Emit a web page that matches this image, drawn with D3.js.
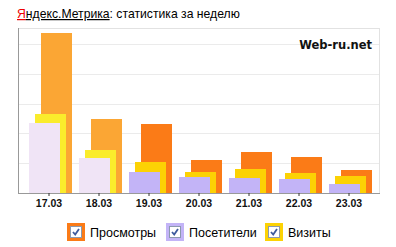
<!DOCTYPE html>
<html lang="ru">
<head>
<meta charset="UTF-8">
<title>Яндекс.Метрика: статистика за неделю</title>
<script src="https://d3js.org/d3.v7.min.js"></script>
<style>
  body { margin: 0; background: #fff; }
  svg { display: block; }
  .title { font-family: Arial, "Liberation Sans", sans-serif; font-size: 12.2px; fill: #000; }
  .tick-label { font-family: Arial, "Liberation Sans", sans-serif; font-size: 10.5px; font-weight: bold; fill: #111; }
  .legend-label { font-family: Arial, "Liberation Sans", sans-serif; font-size: 12.5px; fill: #000; }
  .brand { font-family: "DejaVu Sans", Verdana, sans-serif; font-size: 11.5px; font-weight: bold; fill: #111; }
</style>
</head>
<body>
<svg id="chart" width="396" height="247"></svg>
<script>
const days = ['17.03', '18.03', '19.03', '20.03', '21.03', '22.03', '23.03'];
const views = [268, 125, 115, 55, 68, 60, 38];     // Просмотры
const visits = [133, 73, 52, 35, 40, 33, 28];      // Визиты
const visitors = [117, 58, 35, 27, 25, 23, 15];    // Посетители
const highlighted = ['17.03', '18.03'];            // lighter shade in the picture
const gridValues = [50, 100, 150, 200, 250];

const series = [
  { name: 'Просмотры', values: views, color: '#fb7b17', light: '#fba634', dx: -8 },
  { name: 'Визиты', values: visits, color: '#fcd204', light: '#faec2c', dx: -14 },
  { name: 'Посетители', values: visitors, color: '#c3b4f7', light: '#f0e4f6', dx: -20 }
];
const legendOrder = [series[0], series[2], series[1]];

const svg = d3.select('#chart');
const plotLeft = 18, plotRight = 379, plotTop = 28, plotBottom = 193;

const x = d3.scaleBand().domain(days).range([24, 374]);
const y = d3.scaleLinear().domain([0, 277]).range([plotBottom, plotTop]);

// title
const title = svg.append('text').attr('class', 'title').attr('x', 17).attr('y', 18);
title.append('tspan').attr('fill', '#e00').attr('text-decoration', 'underline').text('Я');
title.append('tspan').attr('text-decoration', 'underline').text('ндекс.Метрика');
title.append('tspan').text(': статистика за неделю');

// frame
svg.append('rect')
  .attr('x', plotLeft + 0.5).attr('y', plotTop + 0.5)
  .attr('width', plotRight - plotLeft).attr('height', plotBottom - plotTop)
  .attr('fill', 'none').attr('stroke', '#e2e2e2');

// gridlines
svg.selectAll('.grid').data(gridValues).join('line')
  .attr('x1', plotLeft + 1).attr('x2', plotRight)
  .attr('y1', d => Math.round(y(d)) + 0.5).attr('y2', d => Math.round(y(d)) + 0.5)
  .attr('stroke', '#ebebeb');

// bars, back to front
series.forEach(s => {
  svg.append('g').selectAll('rect').data(days).join('rect')
    .attr('x', d => x(d) + x.bandwidth() / 2 + s.dx)
    .attr('y', (d, i) => Math.round(y(s.values[i])))
    .attr('width', 31)
    .attr('height', (d, i) => plotBottom - Math.round(y(s.values[i])))
    .attr('fill', d => highlighted.includes(d) ? s.light : s.color);
});

// axes lines
svg.append('line').attr('x1', plotLeft + 0.5).attr('x2', plotLeft + 0.5)
  .attr('y1', plotTop).attr('y2', plotBottom).attr('stroke', '#999');
svg.append('line').attr('x1', plotLeft).attr('x2', plotRight + 1)
  .attr('y1', plotBottom + 0.5).attr('y2', plotBottom + 0.5).attr('stroke', '#999');

// x ticks
const xAxis = d3.axisBottom(x).tickSize(3).tickPadding(3);
const gx = svg.append('g').attr('transform', `translate(0,${plotBottom})`).call(xAxis);
gx.select('.domain').remove();
gx.selectAll('.tick line').attr('stroke', '#333');
gx.selectAll('.tick text').attr('class', 'tick-label').attr('fill', null)
  .attr('font-size', null).attr('font-family', null).attr('dy', '0.75em');
gx.attr('font-size', null).attr('font-family', null);

// brand text
svg.append('text').attr('class', 'brand').attr('x', 372).attr('y', 49)
  .attr('text-anchor', 'end').text('Web-ru.net');

// legend
const legendX = [67, 166, 265];
const lg = svg.append('g').selectAll('g').data(legendOrder).join('g')
  .attr('transform', (d, i) => `translate(${legendX[i]},223)`);
lg.append('rect').attr('width', 18).attr('height', 18).attr('fill', d => d.color);
lg.append('rect').attr('x', 3.5).attr('y', 3.5).attr('width', 11).attr('height', 11)
  .attr('fill', '#fff').attr('stroke', '#8c9aae');
lg.append('path').attr('d', 'M6,9 L8.2,11.5 L12,6')
  .attr('fill', 'none').attr('stroke', '#3d5a9c').attr('stroke-width', 1.8);
lg.append('text').attr('class', 'legend-label').attr('x', 23).attr('y', 14)
  .text(d => d.name);
</script>
</body>
</html>
